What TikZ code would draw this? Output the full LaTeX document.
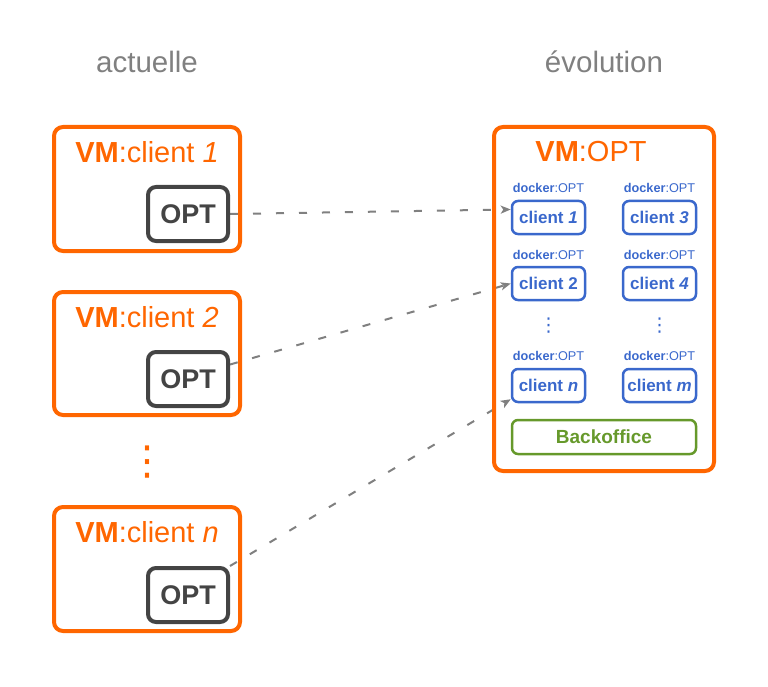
\documentclass[tikz,border=0pt]{standalone}
\usepackage{fontspec}
\setmainfont{Liberation Sans}
\newfontfamily\dotsfont{DejaVu Sans}
\usetikzlibrary{arrows.meta,backgrounds}

\definecolor{vmorange}{HTML}{FF6600}
\definecolor{optgray}{HTML}{444444}
\definecolor{dockblue}{HTML}{3A68CC}
\definecolor{backgreen}{HTML}{66992B}
\definecolor{labelgray}{HTML}{808080}

\begin{document}
\begin{tikzpicture}[x=1pt,y=-1pt,>={Stealth[length=10pt,width=8pt,inset=2.5pt]},inner sep=0pt]
  \tikzstyle{vm}=[draw=vmorange,line width=4pt,rounded corners=9pt]
  \tikzstyle{opt}=[draw=optgray,line width=4pt,rounded corners=8pt,
                   minimum width=80pt,minimum height=54pt,
                   text=optgray,font=\fontsize{27}{27}\selectfont\bfseries]
  \tikzstyle{vmtitle}=[text=vmorange,font=\fontsize{29}{29}\selectfont]
  \tikzstyle{column}=[text=labelgray,font=\fontsize{29.5}{29.5}\selectfont]
  \tikzstyle{docker}=[text=dockblue,font=\fontsize{12.7}{12.7}\selectfont]
  \tikzstyle{client}=[draw=dockblue,line width=2.5pt,rounded corners=6pt,
                      minimum width=73pt,minimum height=33pt,
                      text=dockblue,font=\fontsize{17}{17}\selectfont\bfseries]
  \tikzstyle{link}=[->,draw=labelgray,line width=2pt,dash pattern=on 8pt off 15pt]

  \useasboundingbox (0,0) rectangle (768,687);

  % actuelle
  \node[column] (actuelle) at (147,62) {actuelle};
  \node[vm,minimum width=186pt,minimum height=124pt] (vm1) at (147,189) {};
  \node[vm,minimum width=186pt,minimum height=123pt] (vm2) at (147,353.5) {};
  \node[vm,minimum width=186pt,minimum height=124pt] (vm3) at (147,569) {};
  \node[vmtitle] (t1) at (147,152) {\textbf{VM}:client \textit{1}};
  \node[vmtitle] (t2) at (147,317) {\textbf{VM}:client \textit{2}};
  \node[vmtitle] (t3) at (147,532) {\textbf{VM}:client \textit{n}};
  \node[opt] (opt1) at (188,214) {OPT};
  \node[opt] (opt2) at (188,379) {OPT};
  \node[opt] (opt3) at (188,595) {OPT};
  \node[text=vmorange,font=\dotsfont\fontsize{40}{40}\selectfont] (vdots) at (147,462) {⋮};

  % evolution
  \node[column] (evolution) at (604,62) {évolution};
  \node[vm,minimum width=220pt,minimum height=344pt] (vmopt) at (604,299) {};
  \node[vmtitle] (topt) at (591,152) {\textbf{VM}:OPT};

  \node[docker] (d1) at (548.5,188) {\textbf{docker}:OPT};
  \node[docker] (d3) at (659.5,188) {\textbf{docker}:OPT};
  \node[client] (c1) at (548.5,217.5) {client \textit{1}};
  \node[client] (c3) at (659.5,217.5) {client \textit{3}};

  \node[docker] (d2) at (548.5,255) {\textbf{docker}:OPT};
  \node[docker] (d4) at (659.5,255) {\textbf{docker}:OPT};
  \node[client] (c2) at (548.5,283.5) {client 2};
  \node[client] (c4) at (659.5,283.5) {client \textit{4}};

  \node[docker,font=\dotsfont\fontsize{19}{19}\selectfont] (dots1) at (548.5,326) {⋮};
  \node[docker,font=\dotsfont\fontsize{19}{19}\selectfont] (dots2) at (659.5,326) {⋮};

  \node[docker] (dn) at (548.5,356) {\textbf{docker}:OPT};
  \node[docker] (dm) at (659.5,356) {\textbf{docker}:OPT};
  \node[client] (cn) at (548.5,385.5) {client \textit{n}};
  \node[client] (cm) at (659.5,385.5) {client \textit{m}};

  \node[client,draw=backgreen,text=backgreen,minimum width=184pt,minimum height=34pt,
        font=\fontsize{19}{19}\selectfont\bfseries] (back) at (604,437) {Backoffice};

  \begin{scope}[on background layer]
    \draw[link] (opt1.east) -- (c1.168);
    \draw[link] (opt2.19) -- (c2.west);
    \draw[link] (opt3.north east) -- (cn.200);
  \end{scope}
\end{tikzpicture}
\end{document}
